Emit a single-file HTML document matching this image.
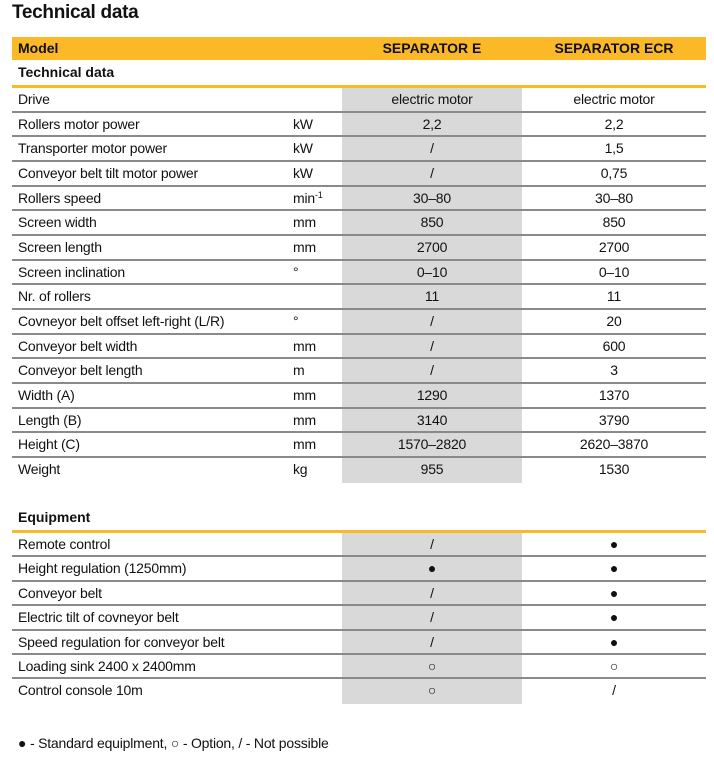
<!DOCTYPE html>
<html><head><meta charset="utf-8"><style>
body{margin:0;width:714px;height:763px;background:#fff;font-family:"Liberation Sans",Arial,sans-serif;color:#111;position:relative;overflow:hidden}
.t{position:absolute;left:12px;top:2px;font-size:19px;font-weight:bold;letter-spacing:-0.3px}
.sec{position:absolute;left:12px;width:694px}
.r{height:24.67px;box-sizing:border-box;border-bottom:2px solid #8a8a8a;display:flex;font-size:14px;line-height:23px;letter-spacing:-0.2px}
.e .r{height:24.4px}
.r.last{border-bottom:none}
.r div{white-space:nowrap}
.a{width:276px;padding-left:6px;box-sizing:border-box}
.u{width:54px;padding-left:5px;box-sizing:border-box}
.g{width:180px;text-align:center;background:#d9d9d9}
.c{width:184px;text-align:center}
.hd{height:23px;background:#fbb827;display:flex;font-size:14px;font-weight:bold;line-height:23px}
.sub{height:25px;font-size:14px;font-weight:bold;line-height:25px;padding-left:6px;border-bottom:3px solid #fbb827}
.f{position:absolute;left:18px;top:735px;font-size:14px;letter-spacing:-0.2px}
sup{font-size:9px;line-height:0;vertical-align:5px}
</style></head><body>
<div class="t">Technical data</div>
<div class="sec" style="top:37px">
<div class="hd"><div style="width:330px;padding-left:6px;box-sizing:border-box">Model</div><div style="width:180px;text-align:center">SEPARATOR E</div><div style="width:184px;text-align:center">SEPARATOR ECR</div></div>
<div class="sub">Technical data</div>
<div class="r"><div class="a">Drive</div><div class="u"></div><div class="g">electric motor</div><div class="c">electric motor</div></div>
<div class="r"><div class="a">Rollers motor power</div><div class="u">kW</div><div class="g">2,2</div><div class="c">2,2</div></div>
<div class="r"><div class="a">Transporter motor power</div><div class="u">kW</div><div class="g">/</div><div class="c">1,5</div></div>
<div class="r"><div class="a">Conveyor belt tilt motor power</div><div class="u">kW</div><div class="g">/</div><div class="c">0,75</div></div>
<div class="r"><div class="a">Rollers speed</div><div class="u">min<sup>-1</sup></div><div class="g">30–80</div><div class="c">30–80</div></div>
<div class="r"><div class="a">Screen width</div><div class="u">mm</div><div class="g">850</div><div class="c">850</div></div>
<div class="r"><div class="a">Screen length</div><div class="u">mm</div><div class="g">2700</div><div class="c">2700</div></div>
<div class="r"><div class="a">Screen inclination</div><div class="u">°</div><div class="g">0–10</div><div class="c">0–10</div></div>
<div class="r"><div class="a">Nr. of rollers</div><div class="u"></div><div class="g">11</div><div class="c">11</div></div>
<div class="r"><div class="a">Covneyor belt offset left-right (L/R)</div><div class="u">°</div><div class="g">/</div><div class="c">20</div></div>
<div class="r"><div class="a">Conveyor belt width</div><div class="u">mm</div><div class="g">/</div><div class="c">600</div></div>
<div class="r"><div class="a">Conveyor belt length</div><div class="u">m</div><div class="g">/</div><div class="c">3</div></div>
<div class="r"><div class="a">Width (A)</div><div class="u">mm</div><div class="g">1290</div><div class="c">1370</div></div>
<div class="r"><div class="a">Length (B)</div><div class="u">mm</div><div class="g">3140</div><div class="c">3790</div></div>
<div class="r"><div class="a">Height (C)</div><div class="u">mm</div><div class="g">1570–2820</div><div class="c">2620–3870</div></div>
<div class="r last"><div class="a">Weight</div><div class="u">kg</div><div class="g">955</div><div class="c">1530</div></div>
</div>
<div class="sec e" style="top:505px">
<div class="sub">Equipment</div>
<div class="r"><div class="a">Remote control</div><div class="u"></div><div class="g">/</div><div class="c">●</div></div>
<div class="r"><div class="a">Height regulation (1250mm)</div><div class="u"></div><div class="g">●</div><div class="c">●</div></div>
<div class="r"><div class="a">Conveyor belt</div><div class="u"></div><div class="g">/</div><div class="c">●</div></div>
<div class="r"><div class="a">Electric tilt of covneyor belt</div><div class="u"></div><div class="g">/</div><div class="c">●</div></div>
<div class="r"><div class="a">Speed regulation for conveyor belt</div><div class="u"></div><div class="g">/</div><div class="c">●</div></div>
<div class="r"><div class="a">Loading sink 2400 x 2400mm</div><div class="u"></div><div class="g">○</div><div class="c">○</div></div>
<div class="r last"><div class="a">Control console 10m</div><div class="u"></div><div class="g">○</div><div class="c">/</div></div>
</div>
<div class="f">● - Standard equiplment, ○ - Option, / - Not possible</div>
</body></html>
